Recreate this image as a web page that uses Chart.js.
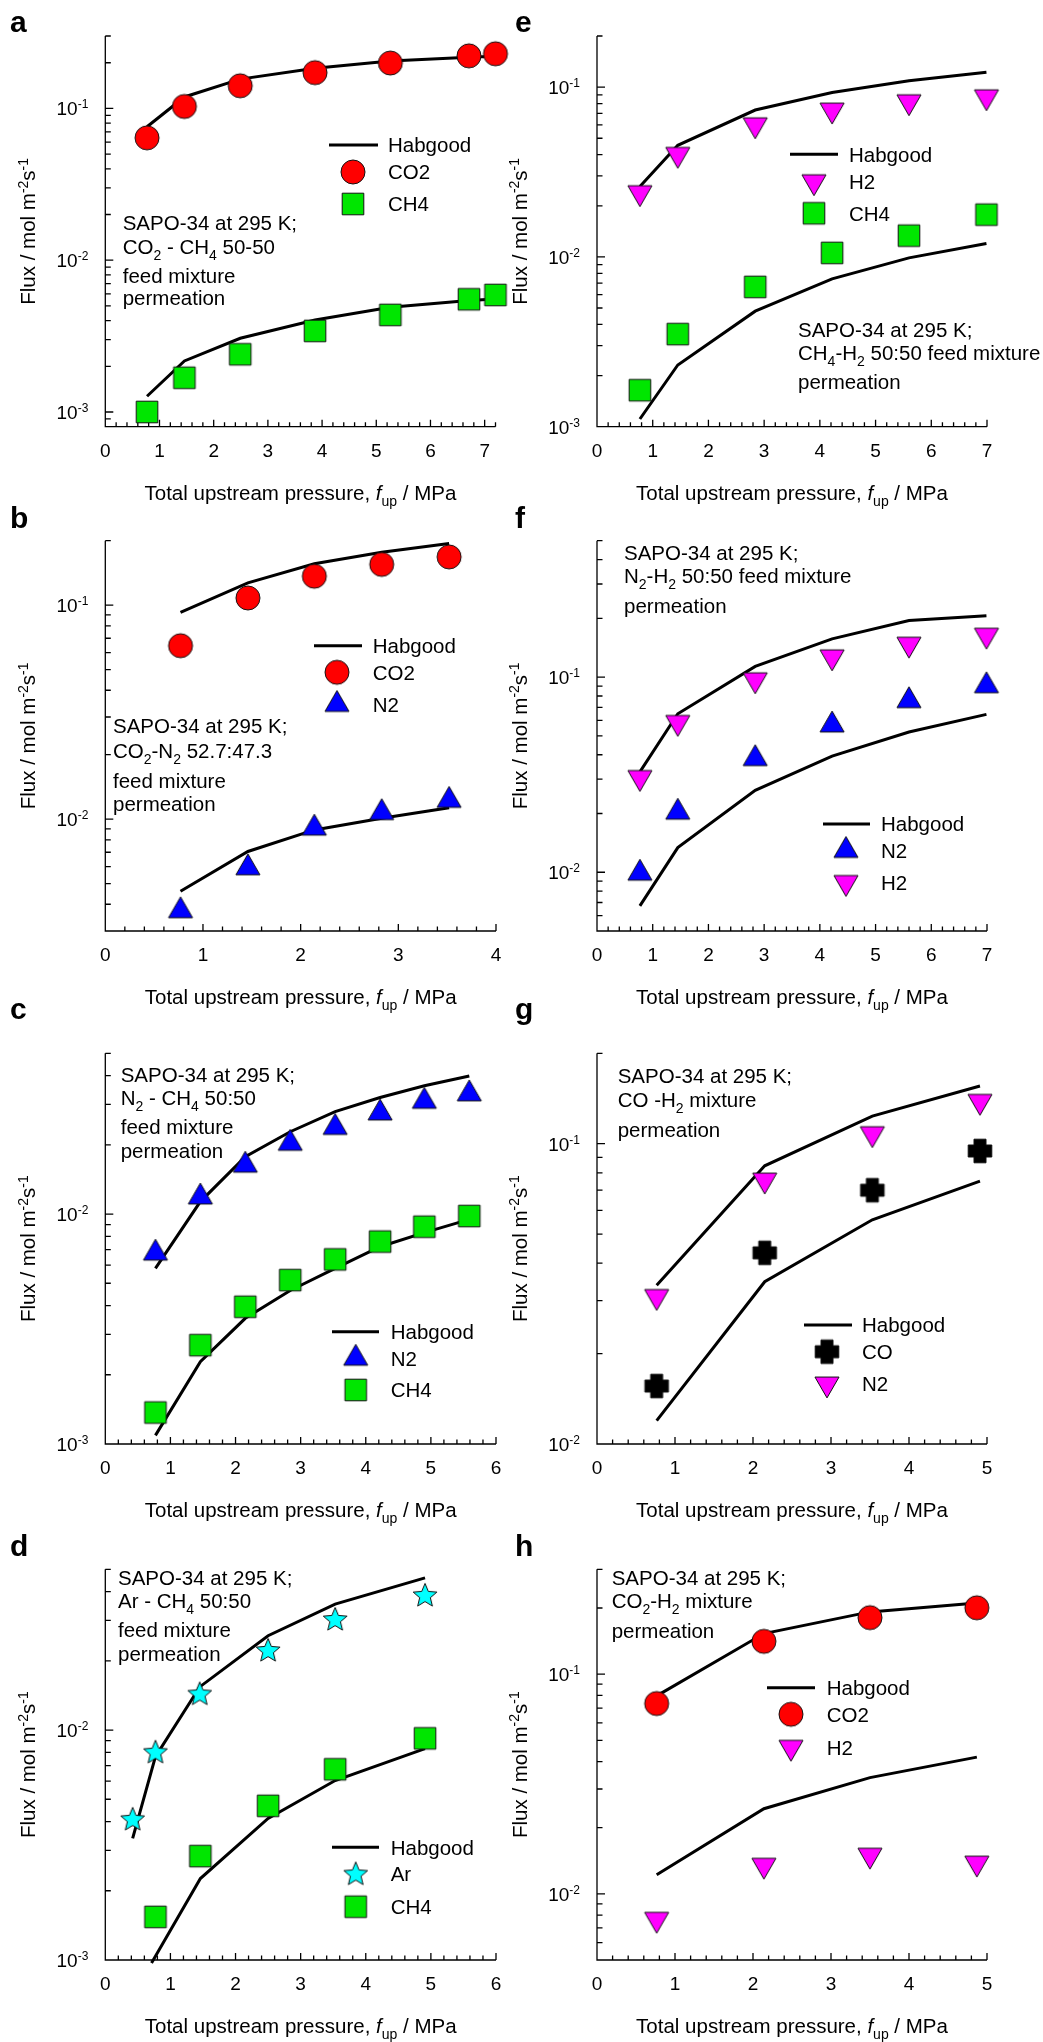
<!DOCTYPE html>
<html>
<head>
<meta charset="utf-8">
<script src="https://cdn.jsdelivr.net/npm/chart.js@4.4.1/dist/chart.umd.min.js"></script>
<style>
  html, body { margin: 0; padding: 0; background: #fff; }
  #page { position: relative; width: 1043px; height: 2042px; overflow: hidden; background: #fff; }
  #page canvas { position: absolute; }
</style>
</head>
<body>
<div id="page"></div>
<script>
// ---- data (flux in mol m-2 s-1, pressure in MPa) ----
// a: CO2 - CH4
const aPressure = [0.77, 1.46, 2.49, 3.87, 5.26, 6.71, 7.20];
const aCO2 = [0.064, 0.103, 0.141, 0.172, 0.199, 0.222, 0.229];
const aCH4 = [0.00100, 0.00168, 0.00240, 0.00342, 0.00436, 0.00553, 0.00590];
const aCO2Habgood = [0.0757, 0.119, 0.156, 0.184, 0.205, 0.217, 0.221];
const aCH4Habgood = [0.00127, 0.00217, 0.00306, 0.00404, 0.00490, 0.00542, 0.00556];
const aXTicks = [0, 1, 2, 3, 4, 5, 6, 7];
const aYTicks = [-3, -2, -1];

// b: CO2 - N2
const bPressure = [0.77, 1.46, 2.14, 2.83, 3.52];
const bCO2 = [0.0646, 0.108, 0.1365, 0.155, 0.168];
const bN2 = [0.00373, 0.00592, 0.00907, 0.01072, 0.01223];
const bCO2Habgood = [0.0925, 0.127, 0.156, 0.1766, 0.194];
const bN2Habgood = [0.0046, 0.00706, 0.0089, 0.0101, 0.0113];
const bXTicks = [0, 1, 2, 3, 4];
const bYTicks = [-2, -1];

// c: N2 - CH4
const cPressure = [0.77, 1.46, 2.15, 2.84, 3.53, 4.22, 4.90, 5.59];
const cN2 = [0.00676, 0.01186, 0.0163, 0.0203, 0.0238, 0.0275, 0.0309, 0.0333];
const cCH4 = [0.00137, 0.00269, 0.00395, 0.00516, 0.00635, 0.00759, 0.00881, 0.0098];
const cN2Habgood = [0.0058, 0.01133, 0.01775, 0.0228, 0.0279, 0.0321, 0.0361, 0.0398];
const cCH4Habgood = [0.00109, 0.00228, 0.00352, 0.00465, 0.0058, 0.00721, 0.0083, 0.00948];
const cXTicks = [0, 1, 2, 3, 4, 5, 6];
const cYTicks = [-3, -2];

// d: Ar - CH4
const dArPressure = [0.42, 0.77, 1.45, 2.50, 3.53, 4.91];
const dAr = [0.00411, 0.00805, 0.01442, 0.0223, 0.0304, 0.0387];
const dArHabgood = [0.00338, 0.00766, 0.0154, 0.0257, 0.0353, 0.0459];
const dCH4Pressure = [0.77, 1.46, 2.50, 3.53, 4.91];
const dCH4 = [0.00154, 0.00283, 0.00468, 0.00675, 0.0092];
const dCH4HabgoodPressure = [0.71, 1.46, 2.50, 3.53, 4.91];
const dCH4Habgood = [0.00097, 0.00226, 0.00413, 0.00603, 0.0083];
const dXTicks = [0, 1, 2, 3, 4, 5, 6];
const dYTicks = [-3, -2];

// e: CH4 - H2
const ePressure = [0.77, 1.45, 2.84, 4.22, 5.60, 6.99];
const eH2 = [0.0239, 0.0402, 0.060, 0.0733, 0.082, 0.0877];
const eCH4 = [0.00164, 0.00351, 0.00666, 0.01056, 0.01334, 0.01774];
const eH2Habgood = [0.026, 0.0454, 0.0733, 0.093, 0.109, 0.1225];
const eCH4Habgood = [0.00111, 0.00231, 0.00479, 0.00743, 0.00987, 0.0120];
const eXTicks = [0, 1, 2, 3, 4, 5, 6, 7];
const eYTicks = [-3, -2, -1];

// f: N2 - H2
const fPressure = [0.77, 1.45, 2.84, 4.22, 5.60, 6.99];
const fN2 = [0.00989, 0.0203, 0.0382, 0.0568, 0.0757, 0.0903];
const fH2 = [0.0306, 0.0586, 0.0969, 0.127, 0.1475, 0.164];
const fH2Habgood = [0.0327, 0.0649, 0.1135, 0.157, 0.195, 0.206];
const fN2Habgood = [0.00673, 0.01337, 0.0263, 0.0394, 0.0523, 0.0644];
const fXTicks = [0, 1, 2, 3, 4, 5, 6, 7];
const fYTicks = [-2, -1];

// g: CO - H2
const gPressure = [0.765, 2.15, 3.53, 4.91];
const gCO = [0.0156, 0.0433, 0.070, 0.0946];
const gN2 = [0.031, 0.0757, 0.108, 0.1384];
const gUpperHabgood = [0.0338, 0.0844, 0.1236, 0.1556];
const gLowerHabgood = [0.01196, 0.0347, 0.0558, 0.0751];
const gXTicks = [0, 1, 2, 3, 4, 5];
const gYTicks = [-2, -1];

// h: CO2 - H2
const hPressure = [0.765, 2.14, 3.50, 4.87];
const hCO2 = [0.0735, 0.141, 0.1807, 0.2005];
const hH2 = [0.00766, 0.0135, 0.015, 0.0138];
const hCO2Habgood = [0.0796, 0.153, 0.192, 0.211];
const hH2Habgood = [0.01222, 0.0244, 0.0338, 0.0419];
const hXTicks = [0, 1, 2, 3, 4, 5];
const hYTicks = [-2, -1];

// ---- text helpers ----
const FONT = '"Liberation Sans", Arial, Helvetica, sans-serif';
const sub = t => ({ t, k: 'sub' });
const sup = t => ({ t, k: 'sup' });
const it = t => ({ t, k: 'i' });

function drawRich(ctx, parts, x, y, size, align, smallSize) {
  const small = smallSize || Math.round(size * 0.68);
  const runs = (Array.isArray(parts) ? parts : [parts]).map(p => {
    const r = typeof p === 'string' ? { t: p, k: '' } : p;
    const isSmall = r.k === 'sub' || r.k === 'sup';
    return {
      t: r.t,
      font: (r.k === 'i' ? 'italic ' : '') + (isSmall ? small : size) + 'px ' + FONT,
      dy: r.k === 'sub' ? size * 0.3 : r.k === 'sup' ? -size * 0.37 : 0
    };
  });
  let w = 0;
  runs.forEach(r => { ctx.font = r.font; r.w = ctx.measureText(r.t).width; w += r.w; });
  let cx = align === 'center' ? x - w / 2 : align === 'right' ? x - w : x;
  ctx.textAlign = 'left';
  ctx.textBaseline = 'alphabetic';
  runs.forEach(r => { ctx.font = r.font; ctx.fillText(r.t, cx, y + r.dy); cx += r.w; });
}

// ---- markers ----
const RED = '#ff0000', GREEN = '#00e600', BLUE = '#0000ff', MAGENTA = '#ff00ff', CYAN = '#00ffff';

function makeMarker(type, fill) {
  const s = 34, c = s / 2;
  const cv = document.createElement('canvas');
  cv.width = s; cv.height = s;
  const g = cv.getContext('2d');
  g.fillStyle = fill;
  g.strokeStyle = '#111';
  g.lineWidth = 1;
  g.beginPath();
  if (type === 'circle') {
    g.arc(c, c, 12, 0, Math.PI * 2);
  } else if (type === 'square') {
    g.rect(c - 10.8, c - 10.8, 21.6, 21.6);
  } else if (type === 'up' || type === 'down') {
    const R = 13.9, h = R * Math.sqrt(3) / 2, sgn = type === 'up' ? 1 : -1;
    g.moveTo(c, c - sgn * R);
    g.lineTo(c - h, c + sgn * R / 2);
    g.lineTo(c + h, c + sgn * R / 2);
    g.closePath();
  } else if (type === 'star') {
    const R = 12.5, r = 5.6;
    for (let i = 0; i < 10; i++) {
      const a = -Math.PI / 2 + i * Math.PI / 5, rr = i % 2 ? r : R;
      const px = c + rr * Math.cos(a), py = c + 1 + rr * Math.sin(a);
      i ? g.lineTo(px, py) : g.moveTo(px, py);
    }
    g.closePath();
  } else if (type === 'cross') {
    const L = 11.8, T = 6;
    const pts = [[-T, -L], [T, -L], [T, -T], [L, -T], [L, T], [T, T], [T, L], [-T, L], [-T, T], [-L, T], [-L, -T], [-T, -T]];
    pts.forEach(([px, py], i) => i ? g.lineTo(c + px, c + py) : g.moveTo(c + px, c + py));
    g.closePath();
  }
  g.fill();
  g.stroke();
  return cv;
}

const M = {
  co2: makeMarker('circle', RED),
  ch4: makeMarker('square', GREEN),
  n2up: makeMarker('up', BLUE),
  h2down: makeMarker('down', MAGENTA),
  ar: makeMarker('star', CYAN),
  co: makeMarker('cross', '#000')
};

const SAPO = 'SAPO-34 at 295 K;';

// ---- panel layout (page coordinates) ----
const panels = [
  { label: 'a', col: 0, row: 0, box: [105.3, 495.5, 36, 426.7], xMax: 7.2, yMin: 8e-4, yMax: 0.3,
    xTicks: aXTicks, yTicks: aYTicks,
    lines: [[aPressure, aCO2Habgood], [aPressure, aCH4Habgood]],
    marks: [[aPressure, aCO2, M.co2], [aPressure, aCH4, M.ch4]],
    legend: { lx: [329, 378], mx: 353, tx: 388, ys: [145, 172, 204], items: [['Habgood'], ['CO2', M.co2], ['CH4', M.ch4]] },
    note: { x: 122.7, ys: [230, 254, 283, 305], lines: [SAPO, ['CO', sub('2'), ' - CH', sub('4'), ' 50-50'], 'feed mixture', 'permeation'] } },
  { label: 'b', col: 0, row: 1, box: [105.3, 496, 540.7, 931], xMax: 4, yMin: 0.003, yMax: 0.2,
    xTicks: bXTicks, yTicks: bYTicks,
    lines: [[bPressure, bCO2Habgood], [bPressure, bN2Habgood]],
    marks: [[bPressure, bCO2, M.co2], [bPressure, bN2, M.n2up]],
    legend: { lx: [314, 362], mx: 337, tx: 372.7, ys: [645.7, 672.3, 704.5], items: [['Habgood'], ['CO2', M.co2], ['N2', M.n2up]] },
    note: { x: 113, ys: [733.3, 758.3, 788.3, 811], lines: [SAPO, ['CO', sub('2'), '-N', sub('2'), ' 52.7:47.3'], 'feed mixture', 'permeation'] } },
  { label: 'c', col: 0, row: 2, box: [105.3, 496, 1053.3, 1444], xMax: 6, yMin: 0.001, yMax: 0.05,
    xTicks: cXTicks, yTicks: cYTicks,
    lines: [[cPressure, cN2Habgood], [cPressure, cCH4Habgood]],
    marks: [[cPressure, cN2, M.n2up], [cPressure, cCH4, M.ch4]],
    legend: { lx: [332, 379], mx: 355.7, tx: 390.7, ys: [1331.7, 1358.3, 1390], items: [['Habgood'], ['N2', M.n2up], ['CH4', M.ch4]] },
    note: { x: 120.7, ys: [1081.7, 1105, 1134, 1157.7], lines: [SAPO, ['N', sub('2'), ' - CH', sub('4'), ' 50:50'], 'feed mixture', 'permeation'] } },
  { label: 'd', col: 0, row: 3, box: [105.3, 496, 1569.3, 1960], xMax: 6, yMin: 0.001, yMax: 0.05,
    xTicks: dXTicks, yTicks: dYTicks,
    lines: [[dArPressure, dArHabgood], [dCH4HabgoodPressure, dCH4Habgood]],
    marks: [[dArPressure, dAr, M.ar], [dCH4Pressure, dCH4, M.ch4]],
    legend: { lx: [332, 379], mx: 355.7, tx: 390.7, ys: [1847.3, 1873.5, 1906.7], items: [['Habgood'], ['Ar', M.ar], ['CH4', M.ch4]] },
    note: { x: 118, ys: [1585, 1608.3, 1637.3, 1661], lines: [SAPO, ['Ar - CH', sub('4'), ' 50:50'], 'feed mixture', 'permeation'] } },
  { label: 'e', col: 1, row: 0, box: [597, 987, 36, 426.7], xMax: 7, yMin: 0.001, yMax: 0.2,
    xTicks: eXTicks, yTicks: eYTicks,
    lines: [[ePressure, eH2Habgood], [ePressure, eCH4Habgood]],
    marks: [[ePressure, eH2, M.h2down], [ePressure, eCH4, M.ch4]],
    legend: { lx: [790, 838], mx: 814, tx: 849, ys: [154.3, 181.7, 213.3], items: [['Habgood'], ['H2', M.h2down], ['CH4', M.ch4]] },
    note: { x: 798, ys: [336.7, 360, 389], lines: [SAPO, ['CH', sub('4'), '-H', sub('2'), ' 50:50 feed mixture'], 'permeation'] } },
  { label: 'f', col: 1, row: 1, box: [597, 987, 540.7, 931], xMax: 7, yMin: 0.005, yMax: 0.5,
    xTicks: fXTicks, yTicks: fYTicks,
    lines: [[fPressure, fH2Habgood], [fPressure, fN2Habgood]],
    marks: [[fPressure, fN2, M.n2up], [fPressure, fH2, M.h2down]],
    legend: { lx: [823, 870], mx: 846, tx: 881, ys: [824, 850.5, 882.5], items: [['Habgood'], ['N2', M.n2up], ['H2', M.h2down]] },
    note: { x: 624, ys: [560, 583.3, 613.3], lines: [SAPO, ['N', sub('2'), '-H', sub('2'), ' 50:50 feed mixture'], 'permeation'] } },
  { label: 'g', col: 1, row: 2, box: [597, 987, 1053.3, 1444], xMax: 5, yMin: 0.01, yMax: 0.2,
    xTicks: gXTicks, yTicks: gYTicks,
    lines: [[gPressure, gUpperHabgood], [gPressure, gLowerHabgood]],
    marks: [[gPressure, gCO, M.co], [gPressure, gN2, M.h2down]],
    legend: { lx: [804, 852], mx: 827, tx: 862, ys: [1325, 1351.7, 1384], items: [['Habgood'], ['CO', M.co], ['N2', M.h2down]] },
    note: { x: 617.7, ys: [1082.7, 1107.3, 1136.7], lines: [SAPO, ['CO -H', sub('2'), ' mixture'], 'permeation'] } },
  { label: 'h', col: 1, row: 3, box: [597, 987, 1569.3, 1960], xMax: 5, yMin: 0.005, yMax: 0.3,
    xTicks: hXTicks, yTicks: hYTicks,
    lines: [[hPressure, hCO2Habgood], [hPressure, hH2Habgood]],
    marks: [[hPressure, hCO2, M.co2], [hPressure, hH2, M.h2down]],
    legend: { lx: [767, 815], mx: 791, tx: 826.7, ys: [1687.7, 1714.3, 1747.3], items: [['Habgood'], ['CO2', M.co2], ['H2', M.h2down]] },
    note: { x: 611.7, ys: [1585, 1608.3, 1638.3], lines: [SAPO, ['CO', sub('2'), '-H', sub('2'), ' mixture'], 'permeation'] } }
];

const ROW_TOP = [0, 500, 1000, 1520];
const ROW_H = [525, 525, 535, 522];
const LABEL_BASE = [32, 528, 1019, 1556];

const pts = (xs, ys) => xs.map((x, i) => ({ x, y: ys[i] }));

function makePanel(p) {
  const x0 = p.col ? 500 : 0, w = p.col ? 543 : 510;
  const y0 = ROW_TOP[p.row], h = ROW_H[p.row];
  const [L, R, T, B] = p.box;

  const cv = document.createElement('canvas');
  cv.width = w; cv.height = h;
  cv.style.left = x0 + 'px';
  cv.style.top = y0 + 'px';
  document.getElementById('page').appendChild(cv);

  const datasets = [];
  p.marks.forEach(([xs, ys, img]) => datasets.push({
    data: pts(xs, ys), showLine: false, pointStyle: img, pointRadius: 12, order: 1, clip: false
  }));
  p.lines.forEach(([xs, ys]) => datasets.push({
    data: pts(xs, ys), borderColor: '#000', borderWidth: 3, pointRadius: 0, tension: 0,
    fill: false, order: 2, clip: false
  }));

  const frame = {
    id: 'frame' + p.label,
    beforeDatasetsDraw(chart) {
      const { ctx, chartArea: a, scales: { x, y } } = chart;
      ctx.save();
      ctx.strokeStyle = '#000';
      ctx.lineWidth = 1.3;
      ctx.beginPath();
      ctx.moveTo(a.left, a.top);
      ctx.lineTo(a.left, a.bottom);
      ctx.lineTo(a.right, a.bottom);
      // x ticks every 0.2, major every 1
      const n = Math.round(p.xMax / 0.2);
      for (let i = 1; i <= n; i++) {
        const px = x.getPixelForValue(i * 0.2);
        ctx.moveTo(px, a.bottom);
        ctx.lineTo(px, a.bottom - (i % 5 === 0 ? 7 : 4.5));
      }
      // y log ticks
      const k0 = Math.floor(Math.log10(p.yMin)), k1 = Math.ceil(Math.log10(p.yMax));
      for (let k = k0; k <= k1; k++) {
        for (let m = 1; m <= 9; m++) {
          const v = m * Math.pow(10, k);
          if (v < p.yMin * 0.999 || v > p.yMax * 1.001) continue;
          const py = y.getPixelForValue(v);
          ctx.moveTo(a.left, py);
          ctx.lineTo(a.left + (m === 1 ? 8 : 5.5), py);
        }
      }
      ctx.stroke();
      ctx.restore();
    },
    afterDraw(chart) {
      const { ctx, chartArea: a, scales: { x, y } } = chart;
      ctx.save();
      ctx.fillStyle = '#000';
      // tick labels
      p.xTicks.forEach(v => drawRich(ctx, String(v), x.getPixelForValue(v), a.bottom + 30, 19, 'center'));
      p.yTicks.forEach(e => drawRich(ctx, ['10', sup(String(e))], a.left - 17, y.getPixelForValue(Math.pow(10, e)) + 7, 19, 'right', 12));
      // axis titles
      drawRich(ctx, ['Total upstream pressure, ', it('f'), sub('up'), ' / MPa'], (a.left + a.right) / 2, a.bottom + 73, 20.5, 'center', 14);
      ctx.save();
      ctx.translate(a.left - 70, (a.top + a.bottom) / 2);
      ctx.rotate(-Math.PI / 2);
      drawRich(ctx, ['Flux / mol m', sup('-2'), 's', sup('-1')], 0, 0, 20.5, 'center', 14);
      ctx.restore();
      // annotation
      p.note.lines.forEach((ln, i) => drawRich(ctx, ln, p.note.x - x0, p.note.ys[i] - y0, 20.5, 'left', 14));
      // legend
      const lg = p.legend;
      lg.items.forEach(([name, img], i) => {
        const ly = lg.ys[i] - y0;
        if (img) {
          ctx.drawImage(img, lg.mx - x0 - img.width / 2, ly - img.height / 2);
        } else {
          ctx.beginPath();
          ctx.lineWidth = 3;
          ctx.strokeStyle = '#000';
          ctx.moveTo(lg.lx[0] - x0, ly);
          ctx.lineTo(lg.lx[1] - x0, ly);
          ctx.stroke();
        }
        drawRich(ctx, name, lg.tx - x0, ly + 7.4, 20.5, 'left');
      });
      // panel letter
      ctx.font = 'bold 30px ' + FONT;
      ctx.textAlign = 'left';
      ctx.textBaseline = 'alphabetic';
      ctx.fillText(p.label, (p.col ? 515 : 10) - x0, LABEL_BASE[p.row] - y0);
      ctx.restore();
    }
  };

  new Chart(cv, {
    type: 'line',
    data: { datasets },
    options: {
      responsive: false,
      animation: false,
      devicePixelRatio: 1,
      events: [],
      layout: { padding: { left: L - x0, right: x0 + w - R, top: T - y0, bottom: y0 + h - B } },
      scales: {
        x: { type: 'linear', display: false, min: 0, max: p.xMax },
        y: { type: 'logarithmic', display: false, min: p.yMin, max: p.yMax }
      },
      plugins: { legend: { display: false }, tooltip: { enabled: false } }
    },
    plugins: [frame]
  });
}

panels.forEach(makePanel);
</script>
</body>
</html>
